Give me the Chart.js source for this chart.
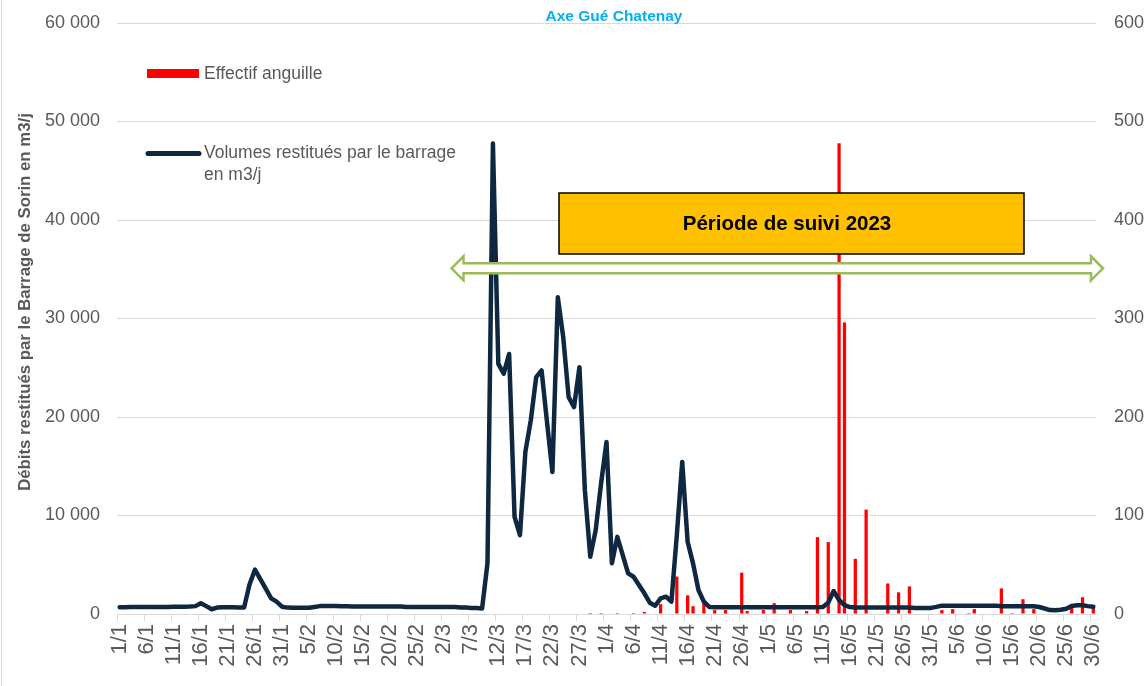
<!DOCTYPE html>
<html>
<head>
<meta charset="utf-8">
<script src="https://cdn.jsdelivr.net/npm/chart.js@4.4.0/dist/chart.umd.min.js"></script>
<style>
  body { margin: 0; background: #fff; }
</style>
</head>
<body>
<canvas id="chart" width="1147" height="686"></canvas>
<script>
// jours du 1/1 au 30/6 2023
const monthDays = [31, 28, 31, 30, 31, 30]
const labels = []
monthDays.forEach((n, m) => {
    for (let d = 1; d <= n; d++) labels.push(d + "/" + (m + 1))
})

// volumes restitués par le barrage (m3/j)
const flowJan = [680,690,700,700,700,700,710,710,720,720,730,730,740,760,800,1100,800,480,650,680,680,680,660,650,3000,4500,3550,2570,1590,1250,740]
const flowFeb = [650,640,640,640,640,720,800,800,800,800,790,780,770,770,770,760,760,760,760,760,760,760,700,700,700,700,700,700]
const flowMar = [700,700,700,700,660,650,620,600,560,5170,47770,25400,24400,26400,9860,8000,16450,19660,24050,24730,19500,14420,32160,28100,22020,21010,25060,12570,5810,8510,13280]
const flowApr = [17460,5140,7830,5980,4120,3780,2940,2100,1150,840,1590,1760,1250,8000,15440,7330,5140,2430,1250,720,680,680,680,680,680,680,680,680,680,680]
const flowMay = [680,680,680,680,680,680,680,680,680,680,700,1150,2330,1420,910,700,670,670,670,670,670,670,670,670,670,670,670,620,600,600,620]
const flowJun = [720,850,850,850,850,850,850,850,850,850,850,850,790,790,790,790,790,790,790,710,560,400,370,440,540,810,880,880,800,740]

// effectif anguille
const eelJan = [0,0,0,0,0,0,0,0,0,0,0,0,0,0,0,0,0,0,0,0,0,0,0,0,0,0,0,0,0,0,0]
const eelFeb = [0,0,0,0,0,0,0,0,0,0,0,0,0,0,0,0,0,0,0,0,0,0,0,0,0,0,0,0]
const eelMar = [0,0,0,0,0,0,0,0,0,0,0,0,0,0,0,0,0,0,0,0,0,0,0,0,0,0,0,0,1,0,1]
const eelApr = [0,0,1,0,0,1,0,2,0,0,10,0,0,38,0,19,8,0,11,0,4,0,4,0,0,42,3,0,0,4]
const eelMay = [0,11,0,0,4,0,0,3,0,78,0,73,0,478,296,0,56,0,106,0,0,0,31,0,22,0,28,0,0,0,0]
const eelJun = [0,4,0,5,0,0,1,5,0,0,0,0,26,0,1,0,15,0,5,0,0,0,0,0,0,10,0,17,0,7]

const flows = [].concat(flowJan, flowFeb, flowMar, flowApr, flowMay, flowJun)
const eels = [].concat(eelJan, eelFeb, eelMar, eelApr, eelMay, eelJun)

const leftTicks = [0, 10000, 20000, 30000, 40000, 50000, 60000]
const rightTicks = [0, 100, 200, 300, 400, 500, 600]

const FONT = '"Liberation Sans", Arial, sans-serif'
const GREY = '#595959'
const NAVY = '#0E2841'
Chart.defaults.font.family = FONT

function fmt(v) {
    return String(v).replace(/\B(?=(\d{3})+(?!\d))/g, ' ')
}

const decor = {
    id: 'decor',
    afterDraw(chart) {
        const ctx = chart.ctx
        ctx.save()

        // bord gauche du graphique
        ctx.strokeStyle = '#d9d9d9'
        ctx.lineWidth = 1
        ctx.beginPath()
        ctx.moveTo(1.5, 0); ctx.lineTo(1.5, 686)
        ctx.stroke()

        // titre
        ctx.fillStyle = '#00B0F0'
        ctx.font = 'bold 15.5px ' + FONT
        ctx.textAlign = 'center'
        ctx.textBaseline = 'middle'
        ctx.fillText('Axe Gué Chatenay', 614, 17)

        // titre axe gauche
        ctx.save()
        ctx.translate(25, 302)
        ctx.rotate(-Math.PI / 2)
        ctx.fillStyle = GREY
        ctx.font = 'bold 16.8px ' + FONT
        ctx.fillText('Débits restitués par le Barrage de Sorin en m3/j', 0, 0)
        ctx.restore()

        // légende
        ctx.fillStyle = '#FF0000'
        ctx.fillRect(147, 69, 52, 9)
        ctx.strokeStyle = NAVY
        ctx.lineWidth = 5
        ctx.lineCap = 'round'
        ctx.beginPath()
        ctx.moveTo(148, 153.5); ctx.lineTo(199, 153.5)
        ctx.stroke()
        ctx.fillStyle = GREY
        ctx.font = '17.5px ' + FONT
        ctx.textAlign = 'left'
        ctx.fillText('Effectif anguille', 204, 74)
        ctx.fillText('Volumes restitués par le barrage', 204, 153)
        ctx.fillText('en m3/j', 204, 175)

        // période de suivi
        ctx.fillStyle = '#FFC000'
        ctx.fillRect(559, 193, 465, 61)
        ctx.strokeStyle = '#000'
        ctx.lineWidth = 1.5
        ctx.strokeRect(559, 193, 465, 61)
        ctx.fillStyle = '#000'
        ctx.font = 'bold 20.5px ' + FONT
        ctx.textAlign = 'center'
        ctx.fillText('Période de suivi 2023', 787, 224)

        // double flèche
        const y = 268.3, l = 451.5, r = 1103, h = 12, s = 5
        ctx.beginPath()
        ctx.moveTo(l, y)
        ctx.lineTo(l + h, y - h)
        ctx.lineTo(l + h, y - s)
        ctx.lineTo(r - h, y - s)
        ctx.lineTo(r - h, y - h)
        ctx.lineTo(r, y)
        ctx.lineTo(r - h, y + h)
        ctx.lineTo(r - h, y + s)
        ctx.lineTo(l + h, y + s)
        ctx.lineTo(l + h, y + h)
        ctx.closePath()
        ctx.fillStyle = '#fff'
        ctx.fill()
        ctx.strokeStyle = '#9BBB59'
        ctx.lineWidth = 2.5
        ctx.lineJoin = 'miter'
        ctx.stroke()

        ctx.restore()
    }
}

new Chart(document.getElementById('chart'), {
    type: 'bar',
    data: {
        labels: labels,
        datasets: [{
            type: 'line',
            label: 'Volumes restitués par le barrage en m3/j',
            data: flows,
            yAxisID: 'y',
            borderColor: NAVY,
            borderWidth: 4.5,
            pointRadius: 0,
            borderJoinStyle: 'round',
            borderCapStyle: 'round',
            tension: 0,
            order: 0
        }, {
            label: 'Effectif anguille',
            data: eels,
            yAxisID: 'y1',
            backgroundColor: '#FF0000',
            barPercentage: 0.6,
            categoryPercentage: 1,
            order: 1
        }]
    },
    options: {
        responsive: false,
        animation: false,
        layout: { padding: { top: 23, left: 0, right: 0, bottom: 0 } },
        plugins: {
            legend: { display: false },
            tooltip: { enabled: false }
        },
        scales: {
            x: {
                offset: true,
                grid: {
                    offset: true,
                    drawOnChartArea: false,
                    drawTicks: true,
                    tickLength: 7,
                    color: c => c.index % 5 === 0 ? '#d9d9d9' : 'rgba(0,0,0,0)'
                },
                border: { color: '#d9d9d9', width: 1 },
                ticks: {
                    autoSkip: false,
                    maxRotation: 90,
                    minRotation: 90,
                    padding: 3,
                    color: GREY,
                    font: { size: 22 },
                    callback: (v, i) => i % 5 === 0 ? labels[i] : ''
                },
                afterFit: s => { s.height = 72; s.paddingLeft = 0; s.paddingRight = 0 }
            },
            y: {
                position: 'left',
                min: 0,
                max: 60000,
                afterBuildTicks: s => { s.ticks = leftTicks.map(v => ({ value: v })) },
                grid: { color: '#d9d9d9', drawTicks: false },
                border: { display: false },
                ticks: {
                    padding: 17,
                    color: GREY,
                    font: { size: 18 },
                    callback: v => fmt(v)
                },
                afterFit: s => { s.width = 117; s.paddingTop = 0; s.paddingBottom = 0 }
            },
            y1: {
                position: 'right',
                min: 0,
                max: 600,
                afterBuildTicks: s => { s.ticks = rightTicks.map(v => ({ value: v })) },
                grid: { drawOnChartArea: false, drawTicks: false },
                border: { display: false },
                ticks: {
                    padding: 18,
                    color: GREY,
                    font: { size: 18 }
                },
                afterFit: s => { s.width = 51; s.paddingTop = 0; s.paddingBottom = 0 }
            }
        }
    },
    plugins: [decor]
})
</script>
</body>
</html>
